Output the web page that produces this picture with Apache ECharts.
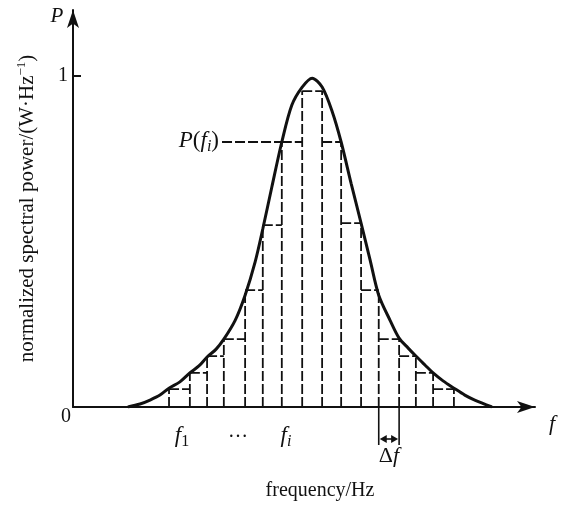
<!DOCTYPE html>
<html>
<head>
<meta charset="utf-8">
<title>spectral power</title>
<script src="https://cdn.jsdelivr.net/npm/echarts@6/dist/echarts.min.js"></script>
</head>
<body style="margin:0;background:#fff">
<div id="main" style="width:567px;height:505px;"></div>
<script>
// step edges along the frequency axis (arbitrary units)
var edges = [21.2, 25.8, 29.6, 33.3, 38.0, 41.9, 46.1, 50.6, 55.0, 59.2, 63.6, 67.5, 72.0, 75.7, 79.5, 84.1];
// normalized power of each step, P(f_i)
var heights = [0.054, 0.103, 0.154, 0.205, 0.353, 0.550, 0.801, 0.955, 0.801, 0.556, 0.353, 0.205, 0.154, 0.103, 0.054];
// the continuous spectrum
var curveX = [12.1, 14.8, 17.0, 19.2, 21.2, 23.6, 25.8, 27.8, 29.6, 31.6, 33.3, 35.8, 38.0, 40.2, 41.9, 43.9, 46.1, 48.3, 50.6, 52.8, 55.0, 57.2, 59.2, 61.4, 63.6, 65.6, 67.5, 70.0, 72.0, 74.0, 75.7, 77.7, 79.5, 81.7, 84.1, 86.5, 88.7, 92.5];
var curveY = [0, 0.009, 0.021, 0.036, 0.057, 0.076, 0.103, 0.124, 0.151, 0.175, 0.205, 0.262, 0.338, 0.438, 0.538, 0.665, 0.801, 0.912, 0.967, 0.994, 0.967, 0.894, 0.801, 0.676, 0.556, 0.444, 0.338, 0.262, 0.208, 0.178, 0.154, 0.127, 0.103, 0.079, 0.057, 0.036, 0.021, 0];
var yTicks = [1];
var deltaEdges = [11, 12];      // edges bracketed by the Δf marker
var leaderX = [32.9, 46.1];     // P(f_i) leader line
var leaderLevel = 0.801;

var ink = '#111';
var serif = '"Liberation Serif", "DejaVu Serif", serif';

var myChart = echarts.init(document.getElementById('main'));

var curveData = curveX.map(function (x, i) { return [x, curveY[i]]; });
var barData = heights.map(function (h, i) { return [edges[i], edges[i + 1], h]; });

var dash = { stroke: ink, lineWidth: 1.8, lineDash: [10, 3], fill: null };

function mathText(x, y, text, size, align) {
    return {
        type: 'text', x: x, y: y,
        style: {
            text: text, font: size + 'px ' + serif, fill: ink, align: align || 'center', verticalAlign: 'middle', lineHeight: 28,
            rich: {
                it: { fontStyle: 'italic', fontSize: size, fontFamily: serif, lineHeight: 28 },
                sub: { fontStyle: 'italic', fontSize: Math.round(size * 0.68), fontFamily: serif, lineHeight: 28, verticalAlign: 'bottom' },
                subn: { fontSize: Math.round(size * 0.68), fontFamily: serif, lineHeight: 28, verticalAlign: 'bottom' }
            }
        }
    };
}

var option = {
    animation: false,
    grid: { left: 73, right: 32, top: 10, bottom: 98 },
    xAxis: {
        type: 'value', min: 0, max: 102,
        axisLine: { show: true, symbol: ['none', 'arrow'], symbolSize: [9, 18], lineStyle: { color: ink, width: 2 } },
        axisTick: { show: false },
        axisLabel: { show: false },
        splitLine: { show: false }
    },
    yAxis: {
        type: 'value', min: 0, max: 1.2,
        axisLine: { show: true, symbol: ['none', 'arrow'], symbolSize: [9, 18], lineStyle: { color: ink, width: 2 } },
        axisTick: { show: true, inside: true, length: 8, customValues: yTicks, lineStyle: { color: ink, width: 2 } },
        axisLabel: { show: true, customValues: yTicks, margin: 5, color: ink, fontFamily: serif, fontSize: 20 },
        splitLine: { show: false },
        name: 'normalized spectral power/(W·Hz{sup|−1})',
        nameLocation: 'middle',
        nameRotate: 90,
        nameGap: 34,
        nameTextStyle: {
            color: ink, fontFamily: serif, fontSize: 21, lineHeight: 24,
            rich: { sup: { fontSize: 13, fontFamily: serif, color: ink, verticalAlign: 'top', lineHeight: 24 } }
        }
    },
    series: [
        {
            type: 'custom',
            data: barData,
            clip: false,
            renderItem: function (params, api) {
                var k = params.dataIndex;
                var x0 = api.value(0), x1 = api.value(1), h = api.value(2);
                var hl = Math.max(h, k > 0 ? heights[k - 1] : 0);
                var b0 = api.coord([x0, 0]), l0 = api.coord([x0, hl]);
                var t0 = api.coord([x0, h]), t1 = api.coord([x1, h]);
                var kids = [
                    { type: 'line', shape: { x1: b0[0], y1: b0[1], x2: l0[0], y2: l0[1] }, style: dash },
                    { type: 'line', shape: { x1: t0[0], y1: t0[1], x2: t1[0], y2: t1[1] }, style: dash }
                ];
                if (k === heights.length - 1) {
                    var b1 = api.coord([x1, 0]);
                    kids.push({ type: 'line', shape: { x1: b1[0], y1: b1[1], x2: t1[0], y2: t1[1] }, style: dash });
                }
                return { type: 'group', children: kids };
            }
        },
        {
            type: 'line',
            data: [[leaderX[0], leaderLevel], [leaderX[1], leaderLevel]],
            symbol: 'none',
            lineStyle: { color: ink, width: 1.8, type: [10, 3] }
        },
        {
            type: 'line',
            data: curveData,
            smooth: 0.3,
            symbol: 'none',
            lineStyle: { color: ink, width: 3 }
        },
        {
            // Δf bracket under the axis
            type: 'custom',
            data: [[edges[deltaEdges[0]], edges[deltaEdges[1]]]],
            clip: false,
            renderItem: function (params, api) {
                var a = api.coord([api.value(0), 0]);
                var b = api.coord([api.value(1), 0]);
                var yl = a[1] + 38, ya = a[1] + 32;
                var solid = { stroke: ink, lineWidth: 1.6 };
                return {
                    type: 'group',
                    children: [
                        { type: 'line', shape: { x1: a[0], y1: a[1], x2: a[0], y2: yl }, style: solid },
                        { type: 'line', shape: { x1: b[0], y1: b[1], x2: b[0], y2: yl }, style: solid },
                        { type: 'line', shape: { x1: a[0] + 4, y1: ya, x2: b[0] - 4, y2: ya }, style: solid },
                        { type: 'polygon', shape: { points: [[a[0] + 1, ya], [a[0] + 8, ya - 4], [a[0] + 8, ya + 4]] }, style: { fill: ink } },
                        { type: 'polygon', shape: { points: [[b[0] - 1, ya], [b[0] - 8, ya - 4], [b[0] - 8, ya + 4]] }, style: { fill: ink } }
                    ]
                };
            }
        }
    ],
    graphic: [
        { type: 'text', x: 57, y: 16, style: { text: 'P', font: 'italic 21px ' + serif, fill: ink, align: 'center', verticalAlign: 'middle' } },
        { type: 'text', x: 552, y: 424, style: { text: 'f', font: 'italic 22px ' + serif, fill: ink, align: 'center', verticalAlign: 'middle' } },
        { type: 'text', x: 66, y: 417, style: { text: '0', font: '20px ' + serif, fill: ink, align: 'center', verticalAlign: 'middle' } },
        mathText(219, 141, '{it|P}({it|f}{sub|i})', 23, 'right'),
        mathText(182, 436, '{it|f}{subn|1}', 23),
        { type: 'text', x: 238, y: 432, style: { text: '…', font: '20px ' + serif, fill: ink, align: 'center', verticalAlign: 'middle' } },
        mathText(286, 436, '{it|f}{sub|i}', 23),
        mathText(389, 456, 'Δ{it|f}', 22),
        { type: 'text', x: 320, y: 491, style: { text: 'frequency/Hz', font: '20px ' + serif, fill: ink, align: 'center', verticalAlign: 'middle' } }
    ]
};

myChart.setOption(option);
</script>
</body>
</html>
